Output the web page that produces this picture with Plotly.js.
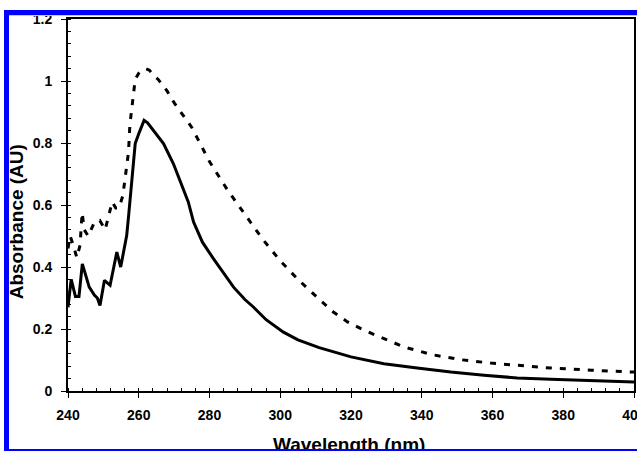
<!DOCTYPE html>
<html>
<head>
<meta charset="utf-8">
<script src="https://cdn.plot.ly/plotly-3.0.1.min.js"></script>
<style>
  html, body { margin: 0; padding: 0; background: #fff; overflow: hidden; }
  #wrap { position: relative; width: 637px; height: 451px; }
  #chart { position: absolute; left: 0; top: 0; width: 637px; height: 451px; }
  .frame { position: absolute; background: #0000ff; z-index: 10; }
  .grey { position: absolute; background: #c8c8c8; z-index: 10; }
</style>
</head>
<body>
<div id="wrap">
  <div id="chart"></div>
  <div class="frame" style="left:4px; top:10px; width:633px; height:5px;"></div>
  <div class="grey" style="left:9px; top:15px; width:628px; height:1px;"></div>
  <div class="frame" style="left:4px; top:10px; width:5px; height:441px;"></div>
  <div class="frame" style="left:4px; top:449px; width:633px; height:2px;"></div>
</div>
<script>
// Solid curve
const solidX = [240, 240.5, 240.9, 242.1, 243.1, 244.05, 245, 246, 247.5, 248.3, 249.05, 250.3, 251.9, 253.8, 254.9, 256.6, 257.1, 258, 259, 260, 261.5, 262.5, 264.1, 267, 269.8, 272, 274, 275.5, 278, 281.1, 284, 286.8, 290, 292.4, 296, 300.9, 305, 311, 320, 329.3, 338.7, 348.2, 357.6, 367, 376.5, 385.9, 400];
const solidY = [0.27, 0.33, 0.36, 0.305, 0.305, 0.41, 0.37, 0.335, 0.309, 0.30, 0.276, 0.357, 0.341, 0.448, 0.40, 0.502, 0.561, 0.68, 0.798, 0.83, 0.873, 0.865, 0.841, 0.798, 0.733, 0.67, 0.61, 0.545, 0.48, 0.427, 0.38, 0.335, 0.295, 0.271, 0.23, 0.19, 0.165, 0.14, 0.11, 0.088, 0.074, 0.061, 0.051, 0.042, 0.038, 0.034, 0.029];

// Dashed curve
const dashX = [240, 240.6, 241.5, 242.5, 243.4, 244.0, 244.6, 245.7, 247.5, 249, 250.5, 251.7, 252.5, 253.5, 254.4, 255.5, 256.1, 256.6, 257.1, 257.5, 258, 258.5, 259, 260, 261, 262, 263, 264, 265.5, 268, 270, 275, 280, 285, 290, 295, 300, 305, 311.3, 315, 319, 323, 327, 331, 335, 343, 351, 359.5, 368, 376.5, 388, 400];
const dashY = [0.46, 0.50, 0.47, 0.43, 0.47, 0.575, 0.52, 0.50, 0.545, 0.55, 0.52, 0.57, 0.61, 0.59, 0.59, 0.63, 0.68, 0.73, 0.77, 0.86, 0.91, 0.96, 1.005, 1.025, 1.035, 1.04, 1.035, 1.02, 1.005, 0.968, 0.93, 0.85, 0.74, 0.65, 0.57, 0.49, 0.42, 0.36, 0.293, 0.255, 0.223, 0.2, 0.18, 0.16, 0.142, 0.117, 0.101, 0.090, 0.083, 0.074, 0.067, 0.061];

const xTickVals = [240, 260, 280, 300, 320, 340, 360, 380, 400];
const yTickVals = [0, 0.2, 0.4, 0.6, 0.8, 1, 1.2];
const yTickText = ['0', '0.2', '0.4', '0.6', '0.8', '1', '1.2'];
const xTitle = 'Wavelength (nm)';
const yTitle = 'Absorbance (AU)';

const FONT = 'Arial, "Liberation Sans", sans-serif';

const traces = [
  { x: dashX, y: dashY, mode: 'lines', line: { color: '#000', width: 3, dash: '6px,8px' }, hoverinfo: 'skip' },
  { x: solidX, y: solidY, mode: 'lines', line: { color: '#000', width: 3 }, hoverinfo: 'skip' }
];

const layout = {
  width: 637, height: 451,
  margin: { l: 68, r: 3, t: 19, b: 60, pad: 0 },
  paper_bgcolor: '#fff', plot_bgcolor: '#fff',
  showlegend: false,
  font: { family: FONT, color: '#000', size: 14, weight: 'bold' },
  xaxis: {
    range: [240, 400], tickvals: xTickVals, ticktext: xTickVals.map(String),
    showgrid: false, zeroline: false, showline: true, linecolor: '#000', linewidth: 2, mirror: true,
    ticks: 'outside', ticklen: 5, tickwidth: 1, tickcolor: '#000',
    tickfont: { family: FONT, size: 14, weight: 'bold', color: '#000' },
    ticklabelstandoff: 5, automargin: false, ticklabeloverflow: 'allow',
    minor: { dtick: 4, ticks: 'inside', ticklen: 3, tickwidth: 1, tickcolor: '#000', showgrid: false }
  },
  yaxis: {
    range: [0, 1.2], tickvals: yTickVals, ticktext: yTickText,
    showgrid: false, zeroline: false, showline: true, linecolor: '#000', linewidth: 2, mirror: true,
    ticks: 'outside', ticklen: 5, tickwidth: 1, tickcolor: '#000',
    tickfont: { family: FONT, size: 14, weight: 'bold', color: '#000' },
    ticklabelstandoff: 6, automargin: false, ticklabeloverflow: 'allow',
    minor: { dtick: 0.04, ticks: 'inside', ticklen: 3, tickwidth: 1, tickcolor: '#000', showgrid: false }
  },
  annotations: [
    { text: xTitle, xref: 'paper', yref: 'paper', x: 0.4965, y: -0.11, xanchor: 'center', yanchor: 'top',
      showarrow: false, font: { family: FONT, size: 19, weight: 'bold', color: '#000' } },
    { text: yTitle, xref: 'paper', yref: 'paper', x: -0.092, y: 0.456, xanchor: 'center', yanchor: 'middle',
      textangle: -90, showarrow: false, font: { family: FONT, size: 19, weight: 'bold', color: '#000' } }
  ]
};

Plotly.newPlot('chart', traces, layout, { staticPlot: true, displayModeBar: false });
</script>
</body>
</html>
